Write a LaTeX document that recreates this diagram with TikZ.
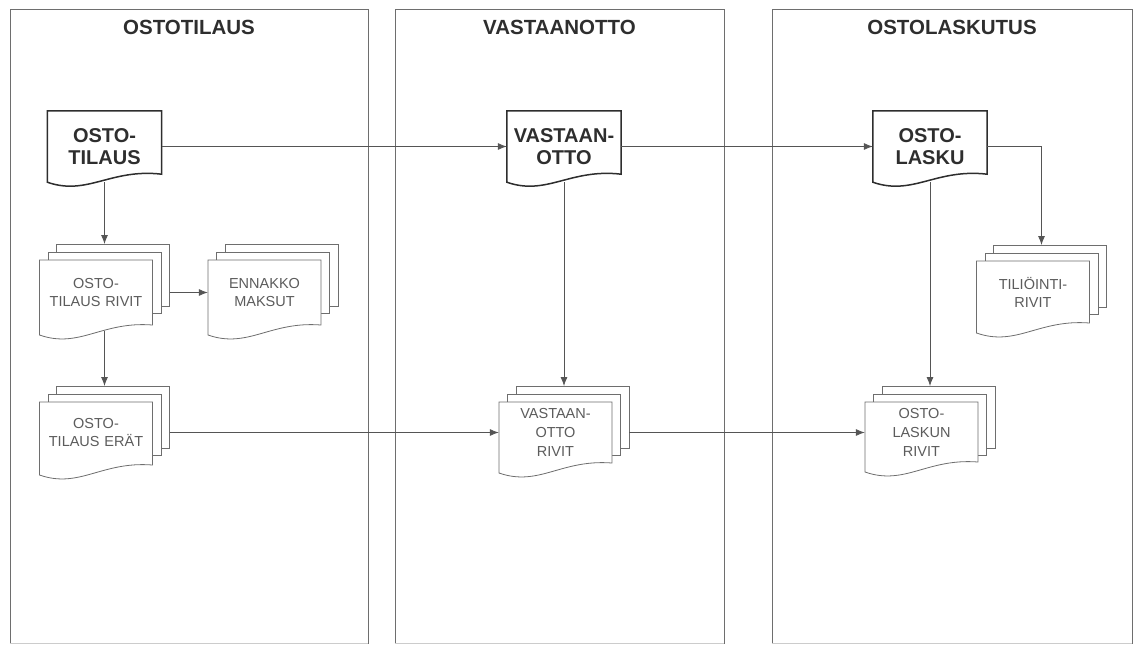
\documentclass[tikz,border=0pt]{standalone}
\usepackage{fontspec}
\setmainfont{Liberation Sans}
\usetikzlibrary{arrows.meta,backgrounds,calc}

\definecolor{frame}{HTML}{6E6E6E}
\definecolor{ink}{HTML}{2E2E2E}
\definecolor{paleink}{HTML}{5C5C5C}
\definecolor{edge}{HTML}{555555}

\tikzset{
  lane/.style={draw=frame, line width=0.9pt, minimum height=634pt, inner sep=0pt},
  lanetitle/.style={font=\fontsize{20.5}{24}\selectfont\bfseries, text=ink, inner sep=0pt},
  maindoc/.style={minimum width=114pt, minimum height=71pt, inner sep=0pt, align=center,
    font=\fontsize{20}{22.5}\selectfont\bfseries, text=ink},
  subdoc/.style={text width=113pt, inner sep=0pt, align=center,
    font=\fontsize{14.5}{18.7}\selectfont, text=paleink},
  mainline/.style={draw=ink, line width=1.5pt},
  subline/.style={draw=frame, fill=white, line width=0.8pt},
  conn/.style={draw=edge, line width=0.8pt, -{Latex[length=9pt,width=7pt]}},
}

% outline of a single document with a wavy lower edge
\newcommand\docoutline[2]{%
  \draw[mainline] (#1.south west) -- (#1.north west) -- (#1.north east)
    -- ([yshift=#2pt]#1.south east) .. controls +(-51,#2-14) and +(40,14) .. (#1.south west) -- cycle;
}

% a stack of three documents around a text node:
% #1 node, #2 distance from text centre up to the front sheet, #3 front sheet height, #4 rise of the wave
\newcommand\docstack[4]{%
  \begin{scope}[shift={(#1.center)}]
    \coordinate (#1-top) at (8.5,-#2-16);
    \coordinate (#1-right) at (73.5,0);
    \coordinate (#1-bot) at (8.5,-#2+#3-4);
    \begin{scope}[on background layer]
      \filldraw[subline] (-39.5,-#2-16) rectangle (73.5,-#2+46);
      \filldraw[subline] (-48,-#2-8) rectangle (65,-#2+53);
      \filldraw[subline] (-56.5,-#2+#3) -- (-56.5,-#2) -- (56.5,-#2) -- (56.5,-#2+#3-#4)
        .. controls +(-51,#4-14) and +(40,14) .. (-56.5,-#2+#3) -- cycle;
    \end{scope}
  \end{scope}
}

\begin{document}
\begin{tikzpicture}[x=1pt,y=-1pt]
\useasboundingbox (0,0) rectangle (1134,646);

% swim lanes
\node[lane, minimum width=358pt] (lane1) at (189,326) {};
\node[lane, minimum width=329pt] (lane2) at (559.5,326) {};
\node[lane, minimum width=360pt] (lane3) at (952,326) {};
\foreach \l in {lane1,lane2,lane3}
  \draw[white, line width=1.4pt] (\l.south west) -- (\l.south east)
        [draw=frame!35, line width=0.7pt] (\l.south west) -- (\l.south east);

\node[lanetitle] (t1) at ($(lane1.north)+(0,19)$) {OSTOTILAUS};
\node[lanetitle] (t2) at ($(lane2.north)+(0,19)$) {VASTAANOTTO};
\node[lanetitle] (t3) at ($(lane3.north)+(0,19)$) {OSTOLASKUTUS};

% main documents
\node[maindoc] (ot) at (104.5,146.5) {OSTO-\\TILAUS};
\node[maindoc] (va) at (564,146.5) {VASTAAN-\\OTTO};
\node[maindoc] (ol) at (930,146.5) {OSTO-\\LASKU};
\docoutline{ot}{8}
\docoutline{va}{8}
\docoutline{ol}{8}

% document stacks
\node[subdoc] (otr) at (96,292.5) {OSTO-\\TILAUS RIVIT};
\node[subdoc] (enn) at (264.5,292.5) {ENNAKKO\\MAKSUT};
\node[subdoc] (ote) at (96,432.5) {OSTO-\\TILAUS ERÄT};
\node[subdoc] (vor) at (555.5,432.5) {VASTAAN-\\OTTO\\RIVIT};
\node[subdoc] (tr) at (1033,292.5) {TILIÖINTI-\\RIVIT};
\node[subdoc] (olr) at (921.5,432.5) {OSTO-\\LASKUN\\RIVIT};
\docstack{otr}{32.5}{75}{10}
\docstack{enn}{32.5}{75}{10}
\docstack{tr}{31.5}{72}{10}
\docstack{ote}{30.5}{73}{10}
\docstack{vor}{30.5}{71}{10}
\docstack{olr}{30.5}{70}{10}

% connectors
\draw[conn] (ot.south) -- (ot.south |- otr-top);
\draw[conn] (otr-right) -- (enn.west);
\draw[conn] (otr-bot) -- (otr-bot |- ote-top);
\draw[conn] (ote-right) -- (vor.west);
\draw[conn] (ot.east) -- (va.west);
\draw[conn] (va.south) -- (va.south |- vor-top);
\draw[conn] (vor-right) -- (olr.west);
\draw[conn] (va.east) -- (ol.west);
\draw[conn] (ol.south) -- (ol.south |- olr-top);
\draw[conn] (ol.east) -| (tr-top);
\end{tikzpicture}
\end{document}
